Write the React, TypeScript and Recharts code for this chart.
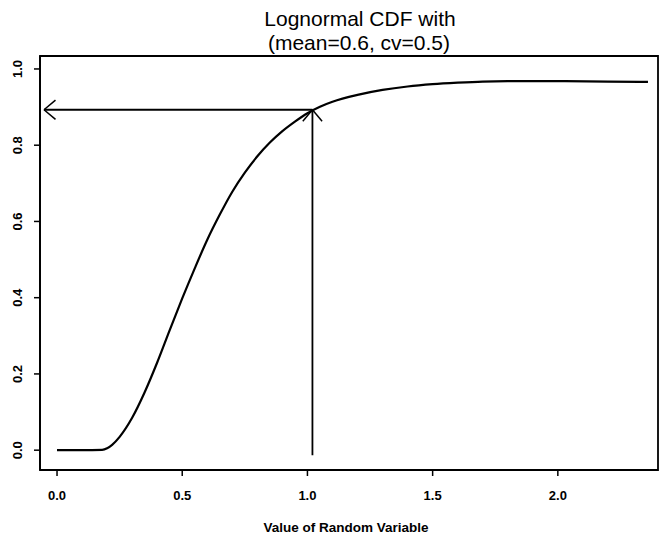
import React from 'react';
import { ComposedChart, Line, XAxis, YAxis, ReferenceLine, ReferenceArea, Customized } from 'recharts';

// Lognormal CDF curve
const xValues = [0, 0.1, 0.18, 0.2, 0.22, 0.25, 0.3, 0.35, 0.4, 0.45, 0.5, 0.55, 0.6, 0.65, 0.7, 0.75, 0.8, 0.85, 0.9, 0.95, 1.0, 1.05, 1.1, 1.2, 1.3, 1.4, 1.5, 1.6, 1.7, 1.8, 2.0, 2.2, 2.36];
const cdfValues = [0, 0, 0.001, 0.005, 0.014, 0.035, 0.085, 0.152, 0.23, 0.315, 0.398, 0.477, 0.552, 0.618, 0.678, 0.728, 0.771, 0.807, 0.837, 0.862, 0.884, 0.901, 0.914, 0.932, 0.945, 0.954, 0.96, 0.964, 0.967, 0.968, 0.968, 0.967, 0.966];

const xTicks = [0, 0.5, 1, 1.5, 2];
const yTicks = [0, 0.2, 0.4, 0.6, 0.8, 1.0];
const xDomain: [number, number] = [-0.068, 2.4];
const yDomain: [number, number] = [-0.052, 1.034];

const titleLines = ['Lognormal CDF with', '(mean=0.6, cv=0.5)'];
const xLabel = 'Value of Random Variable';

// arrows: from the value ~1.0 up to the curve, then across to the axis
const markX = 1.02;
const markY = 0.893;
const arrowLeftX = -0.052;
const arrowBottomY = -0.013;

const data = xValues.map((x, i) => ({ x, y: cdfValues[i] }));

const FONT = '"Liberation Sans", Arial, sans-serif';

const Arrow = (props: any) => {
  const { x1, y1, x2, y2 } = props;
  if ([x1, y1, x2, y2].some((v) => typeof v !== 'number' || isNaN(v))) return null;
  const ang = Math.atan2(y2 - y1, x2 - x1);
  const len = 15;
  const spread = Math.PI / 4.5;
  const a1 = ang + Math.PI - spread;
  const a2 = ang + Math.PI + spread;
  return (
    <g>
      <line x1={x1} y1={y1} x2={x2} y2={y2} stroke="#000" strokeWidth={1.8} />
      <line x1={x2} y1={y2} x2={x2 + len * Math.cos(a1)} y2={y2 + len * Math.sin(a1)} stroke="#000" strokeWidth={1.5} />
      <line x1={x2} y1={y2} x2={x2 + len * Math.cos(a2)} y2={y2 + len * Math.sin(a2)} stroke="#000" strokeWidth={1.5} />
    </g>
  );
};

const XTick = (props: any) => {
  const { x, y, payload } = props;
  return (
    <text x={x} y={y + 22} textAnchor="middle" fontFamily={FONT} fontSize={13} fontWeight={700} fill="#000">
      {Number(payload.value).toFixed(1)}
    </text>
  );
};

const YTick = (props: any) => {
  const { x, y, payload } = props;
  const tx = x - 10;
  return (
    <text x={tx} y={y} transform={`rotate(-90, ${tx}, ${y})`} textAnchor="middle" fontFamily={FONT} fontSize={13} fontWeight={700} fill="#000">
      {Number(payload.value).toFixed(1)}
    </text>
  );
};

const Titles = () => (
  <g>
    <text x={360} y={26} textAnchor="middle" fontFamily={FONT} fontSize={21} fill="#000">{titleLines[0]}</text>
    <text x={359} y={50} textAnchor="middle" fontFamily={FONT} fontSize={21} fill="#000">{titleLines[1]}</text>
    <text x={346} y={532} textAnchor="middle" fontFamily={FONT} fontSize={13.5} fontWeight={700} fill="#000">{xLabel}</text>
  </g>
);

export default function App() {
  return (
    <div style={{ position: 'absolute', left: 0, top: 0, width: 669, height: 536, background: '#fff' }}>
      <ComposedChart width={669} height={536} data={data} margin={{ top: 56, right: 11, left: 0, bottom: 0 }}>
        <XAxis
          dataKey="x"
          type="number"
          domain={xDomain}
          ticks={xTicks}
          allowDataOverflow
          height={66}
          tickSize={6}
          tick={<XTick />}
          axisLine={{ stroke: '#000', strokeWidth: 1.8 }}
          tickLine={{ stroke: '#000', strokeWidth: 1.5 }}
        />
        <YAxis
          type="number"
          domain={yDomain}
          ticks={yTicks}
          allowDataOverflow
          width={40}
          tickSize={6}
          tick={<YTick />}
          axisLine={{ stroke: '#000', strokeWidth: 1.8 }}
          tickLine={{ stroke: '#000', strokeWidth: 1.5 }}
        />
        <ReferenceArea x1={xDomain[0]} x2={xDomain[1]} y1={yDomain[0]} y2={yDomain[1]} fill="none" fillOpacity={0} stroke="#000" strokeWidth={1.8} ifOverflow="visible" />
        <Line
          dataKey="y"
          type="monotone"
          stroke="#000"
          strokeWidth={2.2}
          dot={false}
          activeDot={false}
          isAnimationActive={false}
        />
        <ReferenceLine segment={[{ x: markX, y: arrowBottomY }, { x: markX, y: markY }]} shape={Arrow} ifOverflow="visible" />
        <ReferenceLine segment={[{ x: markX, y: markY }, { x: arrowLeftX, y: markY }]} shape={Arrow} ifOverflow="visible" />
        <Customized component={Titles} />
      </ComposedChart>
    </div>
  );
}
